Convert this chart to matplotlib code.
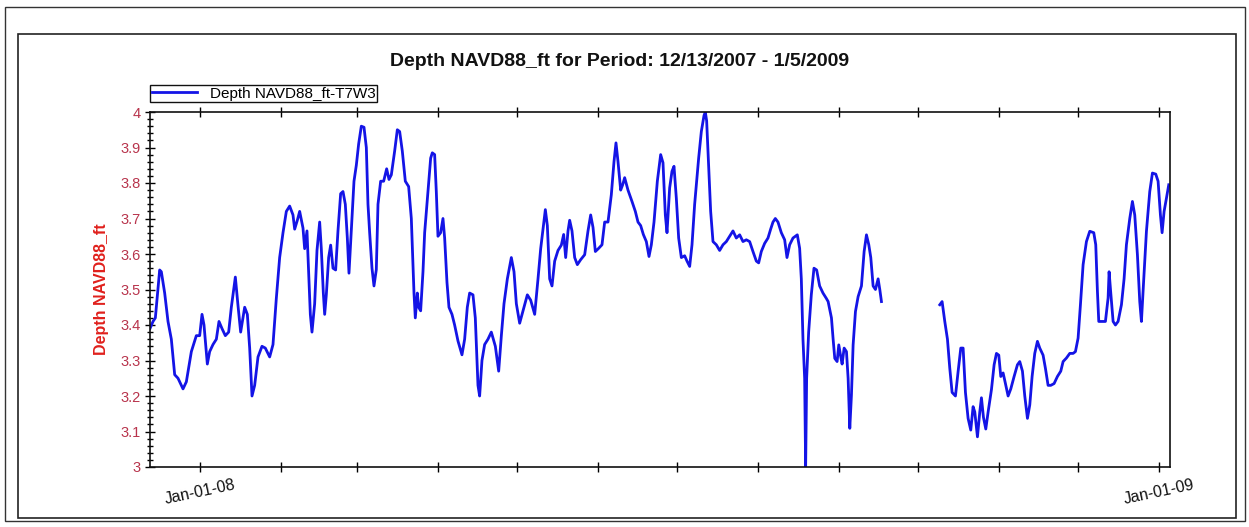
import numpy as np
import pandas as pd
import matplotlib
matplotlib.use('Agg')
import matplotlib.pyplot as plt
import matplotlib.dates as mdates
from matplotlib.patches import Rectangle
from matplotlib.ticker import MultipleLocator, FuncFormatter

plt.rcParams['font.family'] = ['Liberation Sans', 'DejaVu Sans']

start_date = '2007-12-13'
end_date = '2009-01-05'

# days since start date (first stretch, before the data gap)
days_a = [0.0, 1.15, 2.04, 3.69, 4.33, 5.6, 6.87, 8.14, 9.42, 10.69, 12.6, 13.87, 15.78, 17.68,
          18.96, 19.85, 20.61, 21.88, 22.77, 24.04, 25.32, 26.33, 27.48, 28.75, 30.02, 31.04,
          32.57, 33.58, 34.6, 35.49, 36.13, 37.15, 38.04, 38.93, 39.94, 41.22, 42.74, 44.01,
          45.67, 46.94, 48.21, 49.48, 50.76, 52.03, 53.3, 54.57, 55.21, 56.23, 57.12, 58.39,
          59.02, 59.91, 60.55, 61.19, 61.82, 62.84, 63.73, 64.75, 65.38, 66.15, 66.66, 67.29,
          68.18, 68.95, 69.84, 70.85, 71.74, 72.76, 73.65, 74.54, 75.31, 75.94, 76.83, 77.85,
          78.74, 79.63, 80.65, 81.67, 82.56, 83.19, 83.83, 84.72, 85.48, 86.37, 87.01, 88.03,
          89.17, 90.32, 91.21, 92.1, 93.37, 94.39, 95.28, 96.29, 97.44, 98.71, 99.73, 100.75,
          101.25, 102.02, 102.53, 103.29, 104.18, 104.82, 106.09, 107.11, 107.74, 108.63,
          109.27, 109.9, 110.92, 111.81, 112.45, 113.34, 114.1, 115.25, 116.26, 117.54, 119.06,
          120.08, 121.1, 121.99, 123.26, 124.15, 125.17, 125.8, 126.69, 127.71, 128.98, 130.26,
          131.8, 133.07, 134.09, 135.1, 136.38, 137.9, 138.92, 139.81, 141.08, 142.36, 144.01,
          145.28, 146.81, 148.08, 149.1, 149.99, 150.88, 151.64, 152.53, 153.42, 154.44, 155.71,
          156.98, 157.87, 158.64, 159.53, 160.16, 161.05, 162.07, 163.09, 164.36, 165.89,
          167.16, 168.18, 169.07, 169.96, 171.23, 172.5, 173.52, 174.79, 176.06, 177.08,
          177.84, 178.61, 179.63, 180.39, 181.15, 182.42, 183.95, 185.22, 186.24, 187.26,
          188.28, 189.42, 190.44, 191.33, 192.35, 193.62, 194.89, 195.78, 196.67, 197.31,
          198.32, 199.21, 199.98, 200.87, 201.76, 202.78, 204.05, 204.94, 205.96, 206.85,
          207.86, 209.39, 210.41, 211.43, 211.93, 212.44, 213.21, 213.97, 214.86, 216.13,
          217.4, 218.68, 219.95, 221.22, 222.49, 223.76, 225.04, 226.31, 227.58, 228.85,
          230.12, 231.4, 232.29, 233.3, 234.58, 235.85, 236.87, 237.76, 238.65, 239.66,
          240.94, 242.21, 243.1, 244.12, 245.39, 247.04, 247.93, 248.57, 249.2, 249.84,
          250.22, 250.6, 251.37, 252.38, 253.4, 254.42, 255.56, 256.84, 258.11, 258.8,
          260.07, 260.71, 261.34, 262.23, 262.87, 263.63, 264.14, 264.91, 265.8, 266.43,
          267.07, 267.7, 268.34, 269.23, 270.25, 271.52, 272.54, 273.43, 274.32, 275.08,
          275.97, 276.86, 277.88, 278.52, 279.15]
depth_a = [3.39, 3.41, 3.42, 3.555, 3.55, 3.49, 3.41, 3.36, 3.26, 3.25, 3.22, 3.24, 3.325, 3.37,
           3.37, 3.43, 3.40, 3.29, 3.325, 3.345, 3.36, 3.41, 3.39, 3.37, 3.38, 3.45,
           3.535, 3.455, 3.38, 3.42, 3.45, 3.43, 3.335, 3.20, 3.23, 3.31, 3.34, 3.335,
           3.31, 3.345, 3.475, 3.59, 3.66, 3.72, 3.735, 3.71, 3.67, 3.695, 3.72, 3.673,
           3.615, 3.665, 3.55, 3.43, 3.38, 3.46, 3.61, 3.69, 3.615, 3.49, 3.43, 3.485,
           3.59, 3.625, 3.56, 3.555, 3.665, 3.77, 3.776, 3.74, 3.645, 3.546, 3.665, 3.805,
           3.85, 3.91, 3.96, 3.957, 3.90, 3.74, 3.66, 3.56, 3.51, 3.556, 3.74, 3.805,
           3.805, 3.84, 3.81, 3.823, 3.89, 3.95, 3.945, 3.89, 3.805, 3.79, 3.70, 3.49,
           3.42, 3.49, 3.45, 3.44, 3.55, 3.66, 3.776, 3.87, 3.885, 3.88,
           3.775, 3.65, 3.66, 3.70, 3.645, 3.52, 3.45, 3.43, 3.40, 3.355, 3.316,
           3.36, 3.45, 3.49, 3.485, 3.42, 3.23, 3.20, 3.30, 3.345, 3.36, 3.38,
           3.34, 3.27, 3.37, 3.46, 3.53, 3.59, 3.55, 3.46, 3.405, 3.44, 3.485,
           3.47, 3.43, 3.53, 3.615, 3.67, 3.725, 3.68, 3.53, 3.51, 3.58, 3.61,
           3.625, 3.655, 3.59, 3.665, 3.695, 3.665, 3.59, 3.57, 3.584, 3.598,
           3.665, 3.71, 3.675, 3.607, 3.616, 3.626, 3.69, 3.69, 3.767, 3.86,
           3.913, 3.86, 3.78, 3.795, 3.815, 3.78, 3.748, 3.72, 3.69, 3.68,
           3.655, 3.635, 3.593, 3.626, 3.69, 3.805, 3.88, 3.857, 3.71, 3.66,
           3.786, 3.833, 3.847, 3.757, 3.645, 3.59, 3.595, 3.58, 3.565, 3.626,
           3.74, 3.87, 3.945, 3.99, 4.0, 3.975, 3.85, 3.72, 3.635, 3.626,
           3.61, 3.626, 3.635, 3.65, 3.665, 3.645, 3.654, 3.635, 3.64, 3.635,
           3.607, 3.58, 3.575, 3.607, 3.63, 3.645, 3.67, 3.69, 3.70, 3.69,
           3.66, 3.64, 3.59, 3.626, 3.645, 3.654, 3.616, 3.53, 3.36, 3.25,
           3.0, 3.25, 3.38, 3.485, 3.56, 3.555, 3.51, 3.49, 3.475, 3.466,
           3.42, 3.36, 3.306, 3.297, 3.344, 3.31, 3.29, 3.335, 3.325, 3.25,
           3.109, 3.203, 3.344, 3.438, 3.48, 3.51, 3.607, 3.654, 3.626, 3.59,
           3.51, 3.50, 3.53, 3.50, 3.466]

# second stretch, after the gap
days_b = [301.41, 302.3, 303.32, 304.34, 305.23, 306.12, 307.39, 308.41, 309.43, 310.32,
          311.21, 312.22, 313.24, 314.13, 314.77, 315.79, 316.68, 317.31, 318.08, 318.97,
          319.86, 321.13, 322.15, 323.04, 323.93, 324.69, 325.58, 326.47, 327.49, 328.51,
          329.78, 331.05, 331.94, 332.96, 333.85, 334.87, 335.76, 336.65, 337.66, 338.68,
          339.57, 340.84, 341.73, 342.75, 343.77, 345.04, 346.31, 347.59, 348.48, 349.75,
          351.02, 352.29, 353.18, 354.2, 355.09, 356.11, 357.38, 358.65, 360.18, 360.94,
          361.58, 362.09, 363.36, 364.63, 365.65, 366.03, 366.67, 367.56, 368.45, 369.46,
          370.74, 371.75, 372.64, 373.92, 374.93, 375.82, 376.84, 377.73, 378.37, 379.26,
          380.28, 381.55, 382.57, 383.84, 384.73, 385.62, 386.26, 387.02, 387.91, 388.8]
depth_b = [3.457, 3.466, 3.41, 3.36, 3.278, 3.21, 3.20, 3.269, 3.335, 3.335,
           3.21, 3.137, 3.104, 3.17, 3.155, 3.085, 3.155, 3.195, 3.14, 3.107,
           3.155, 3.218, 3.288, 3.32, 3.315, 3.255, 3.265, 3.235, 3.20, 3.22,
           3.255, 3.288, 3.297, 3.27, 3.20, 3.137, 3.175, 3.255, 3.32, 3.354,
           3.335, 3.315, 3.278, 3.23, 3.23, 3.235, 3.255, 3.27, 3.297, 3.307,
           3.32, 3.32, 3.325, 3.363, 3.457, 3.57, 3.635, 3.664, 3.66, 3.626,
           3.494, 3.41, 3.41, 3.41, 3.476, 3.55, 3.49, 3.41, 3.40, 3.41,
           3.457, 3.53, 3.626, 3.70, 3.748, 3.71, 3.598, 3.466, 3.41, 3.53,
           3.664, 3.776, 3.828, 3.825, 3.805, 3.71, 3.66, 3.72, 3.757, 3.795]

series_label = 'Depth NAVD88_ft-T7W3'
title = 'Depth NAVD88_ft for Period: 12/13/2007 - 1/5/2009'
ylabel = 'Depth NAVD88_ft'

t0 = pd.Timestamp(start_date)
xa = t0 + pd.to_timedelta(np.array(days_a), unit='D')
xb = t0 + pd.to_timedelta(np.array(days_b), unit='D')

fig = plt.figure(figsize=(12.49, 5.27), dpi=100)
fig.patch.set_facecolor('white')

W, H = 1249, 527
# outer and inner frames of the exported panel
fig.patches.append(Rectangle((5 / W, 1 - 521 / H), 1240 / W, 514 / H, transform=fig.transFigure,
                             fill=False, edgecolor='#333333', linewidth=1.0))
fig.patches.append(Rectangle((18 / W, 1 - 518 / H), 1218 / W, 484 / H, transform=fig.transFigure,
                             fill=False, edgecolor='#222222', linewidth=1.2))

ax = fig.add_axes([150 / W, 1 - 467 / H, 1019.5 / W, 355 / H])
line_color = '#1414e6'
ax.plot(xa, depth_a, color=line_color, linewidth=2.0, label=series_label)
ax.plot(xb, depth_b, color=line_color, linewidth=2.0)

ax.set_xlim(t0, pd.Timestamp(end_date) + pd.Timedelta(hours=2))
ax.set_ylim(3.0, 4.0)

ax.yaxis.set_major_locator(MultipleLocator(0.1))
ax.yaxis.set_minor_locator(MultipleLocator(0.02))
ax.yaxis.set_major_formatter(FuncFormatter(lambda v, p: f'{v:g}' if abs(v - round(v)) > 1e-9 else f'{int(round(v))}'))
ax.tick_params(axis='y', which='major', direction='inout', length=7, width=1, right=False,
               labelcolor='#b8344c', labelsize=10.5)
ax.tick_params(axis='y', which='minor', direction='inout', length=5, width=1, right=False)

ax.xaxis.set_major_locator(mdates.MonthLocator())
ax.xaxis.set_major_formatter(FuncFormatter(
    lambda v, p: mdates.num2date(v).strftime('%b-%d-%y') if mdates.num2date(v).month == 1 else ''))
ax.tick_params(axis='x', which='major', direction='inout', length=7, width=1, top=True,
               labelsize=11.5, labelcolor='#111111', pad=4)
for lab in ax.get_xticklabels():
    lab.set_rotation(12)
    lab.set_ha('center')

for s in ax.spines.values():
    s.set_linewidth(1.2)
    s.set_color('#111111')

ax.set_ylabel(ylabel, color='#e0201c', fontsize=11.5, fontweight='bold', labelpad=8)
fig.text(620 / W, 1 - 62 / H, title, ha='center', va='center',
         fontsize=14, fontweight='bold', color='#111111')

leg = ax.legend(loc='lower left', bbox_to_anchor=(0.0, 1.028), borderaxespad=0,
                fancybox=False, edgecolor='#111111', framealpha=1, fontsize=11,
                handlelength=3.0, handletextpad=0.8, borderpad=0.1)
leg.get_frame().set_linewidth(1.0)

fig.savefig('out.png', dpi=100)
